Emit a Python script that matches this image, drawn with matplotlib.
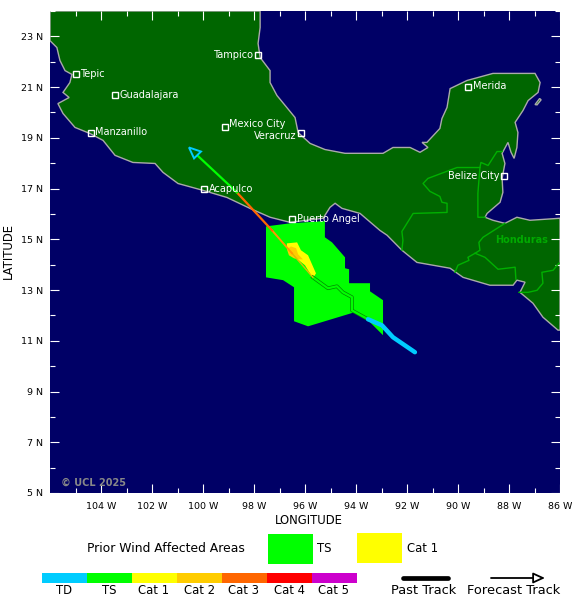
import matplotlib
matplotlib.use("Agg")
import matplotlib.pyplot as plt
from matplotlib.patches import Polygon, Rectangle

W, H = 580, 606
LON0, LON1, LAT0, LAT1 = -106, -86, 5, 24

land_lon = [-106,-106.0,-105.73,-105.61,-105.41,-105.14,-105.22,-105.49,-105.25,-105.69,-105.49,-105.02,-104.43,-103.92,-103.45,-102.75,-101.88,-101.57,-100.98,-100.0,-99.06,-98.16,-97.37,-96.59,-95.29,-95.02,-94.82,-94.55,-93.84,-93.06,-92.78,-92.20,-91.61,-90.31,-89.80,-88.75,-87.84,-87.69,-87.37,-87.57,-87.06,-86.67,-86.08,-86,-86,-87.18,-87.69,-88.16,-88.63,-88.94,-88.86,-88.35,-88.24,-88.27,-88.16,-88.27,-88.04,-87.92,-87.80,-87.69,-87.65,-87.76,-87.45,-87.25,-86.86,-86.78,-86.98,-87.69,-88.63,-89.65,-90.31,-90.43,-90.63,-90.71,-91.22,-91.41,-91.18,-91.49,-91.88,-92.55,-92.94,-93.45,-94.43,-95.22,-95.80,-96.27,-96.39,-97.10,-97.37,-97.37,-97.76,-97.84,-97.76,-97.76]
land_lat = [24,22.83,22.56,22.05,21.65,21.50,21.18,20.79,20.59,20.35,19.96,19.41,19.17,18.90,18.31,18.03,17.99,17.64,17.20,16.93,16.65,16.22,15.87,15.67,15.83,16.26,16.42,16.22,16.02,15.35,15.16,14.57,14.09,13.86,13.50,13.19,13.19,13.39,13.31,12.91,12.48,11.93,11.42,11.42,15.83,15.75,15.87,15.63,15.75,15.87,16.02,16.46,16.85,17.40,17.99,18.39,18.82,18.43,18.19,18.62,19.21,19.61,20.08,20.47,20.79,21.18,21.54,21.54,21.54,21.26,20.94,20.20,19.76,19.37,18.82,18.82,18.62,18.43,18.62,18.62,18.39,18.39,18.39,18.54,18.78,19.21,19.80,20.67,21.18,21.65,22.17,22.72,23.35,24]

island_lon = [-86.98,-86.80,-86.74,-86.90]
island_lat = [20.31,20.55,20.50,20.30]

borders = [
    ([-92.20,-92.16,-92.20,-91.76,-90.43,-90.43,-90.63,-90.71,-91.10,-91.37,-91.18,-90.04,-89.14],
     [14.57,14.96,15.31,16.02,16.06,16.42,16.46,16.69,16.89,17.20,17.40,17.83,17.83]),
    ([-88.94,-89.22,-89.22,-89.14,-89.10,-88.82,-88.47,-88.27],
     [15.87,15.87,16.81,17.83,18.03,17.91,18.46,18.46]),
    ([-88.16,-89.02,-89.18,-89.14,-89.33,-89.61,-89.57,-90.0,-90.12],
     [15.63,15.08,14.88,14.57,14.45,14.29,14.17,13.98,13.70]),
    ([-89.33,-88.94,-88.43,-87.76,-87.73],
     [14.45,14.29,13.82,13.90,13.43]),
    ([-87.61,-87.25,-86.90,-86.67,-86.71,-86.27,-86.04],
     [12.91,12.91,12.99,13.27,13.70,13.78,14.06]),
]

ts_lon = [-97.53,-96.59,-95.22,-95.22,-94.94,-94.43,-94.43,-94.27,-94.27,-93.45,-93.45,-92.94,-92.94,-93.53,-94.04,-95.88,-96.43,-96.43,-96.86,-97.53]
ts_lat = [15.51,15.63,15.72,15.08,14.88,14.29,13.86,13.82,13.27,13.27,12.95,12.60,11.22,11.81,12.13,11.57,11.77,13.11,13.39,13.50]

cat1_lon = [-96.71,-96.31,-96.16,-95.88,-95.57,-95.69,-96.00,-96.39,-96.71]
cat1_lat = [14.84,14.88,14.57,14.37,13.66,13.46,13.98,14.29,14.65]

cat2_lon = [-96.71,-96.55,-96.35,-96.27,-96.08,-96.24,-96.43,-96.63]
cat2_lat = [14.61,14.72,14.65,14.41,14.21,14.21,14.25,14.37]

td_lon = [-91.69,-92.55,-92.98,-93.53]
td_lat = [10.55,11.14,11.61,11.85]
ts_track_lon = [-93.53,-94.16,-94.16,-94.51,-94.75,-95.10,-95.69]
ts_track_lat = [11.85,12.20,12.72,12.91,13.15,13.07,13.50]
cat1_track_lon = [-95.69,-96.51]
cat1_track_lat = [13.50,14.45]
cat_track_lon = [-96.51,-97.29]
cat_track_lat = [14.45,15.35]
cat3_fc_lon = [-97.29,-98.67]
cat3_fc_lat = [15.35,16.85]
ts_fc_lon = [-98.67,-100.31]
ts_fc_lat = [16.85,18.39]
head_lon = [-100.55,-100.08,-100.35]
head_lat = [18.62,18.46,18.19]

cities = ["Tampico","Tepic","Guadalajara","Manzanillo","Mexico City","Veracruz","Acapulco","Puerto Angel","Merida","Belize City"]
city_lon = [-97.85,-105.0,-103.45,-104.4,-99.15,-96.15,-99.95,-96.5,-89.6,-88.2]
city_lat = [22.25,21.5,20.67,19.2,19.43,19.2,17.0,15.8,21.0,17.5]
city_side = ["l","r","r","r","r","l","r","r","r","l"]
city_dy = [0.03,0.03,0.0,0.03,0.12,-0.12,0.0,0.0,0.03,0.0]

bar_names = ["TD","TS","Cat 1","Cat 2","Cat 3","Cat 4","Cat 5"]
bar_colors = ["#00ccff","#00ff00","#ffff00","#ffcc00","#ff6600","#ff0000","#cc00cc"]

NAVY, LAND, COAST, BORDER = "#000066", "#006600", "#aaaaaa", "#00b000"

fig = plt.figure(figsize=(W/100, H/100), dpi=100, facecolor="white")
ax = fig.add_axes([50/W, 1-493/H, 510/W, 482/H], facecolor=NAVY)
ax.set_xlim(LON0, LON1)
ax.set_ylim(LAT0, LAT1)

ax.add_patch(Polygon(list(zip(land_lon, land_lat)), fc=LAND, ec=COAST, lw=1, zorder=1))
ax.add_patch(Polygon(list(zip(island_lon, island_lat)), fc=LAND, ec=COAST, lw=1, zorder=1))
for bx, by in borders:
    ax.plot(bx, by, color=BORDER, lw=1, zorder=2)

ax.add_patch(Polygon(list(zip(ts_lon, ts_lat)), fc="#00ff00", ec="none", zorder=3))
ax.add_patch(Polygon(list(zip(cat1_lon, cat1_lat)), fc="#ffff00", ec="none", zorder=4))
ax.add_patch(Polygon(list(zip(cat2_lon, cat2_lat)), fc="#ffcc00", ec="none", zorder=5))

ax.plot(ts_track_lon, ts_track_lat, color="#008800", lw=2.6, zorder=5)
ax.plot(ts_track_lon, ts_track_lat, color="#00ff00", lw=1.6, zorder=6)
ax.plot(td_lon, td_lat, color="#00ccff", lw=3.2, solid_capstyle="round", solid_joinstyle="round", zorder=7)
ax.plot(cat1_track_lon, cat1_track_lat, color="#ddbb00", lw=1.0, zorder=6)
ax.plot(cat_track_lon, cat_track_lat, color="#ff9900", lw=1.4, zorder=7)
ax.plot(cat3_fc_lon, cat3_fc_lat, color="#ff6600", lw=1.6, zorder=7)
ax.plot(ts_fc_lon, ts_fc_lat, color="#00ff00", lw=1.6, zorder=7)
ax.add_patch(Polygon(list(zip(head_lon, head_lat)), fc=LAND, ec="#00ccff", lw=1.4, zorder=8))

for name, lo, la, side, dy in zip(cities, city_lon, city_lat, city_side, city_dy):
    ax.plot([lo], [la], marker="s", ms=5, mfc="none", mec="white", mew=1, zorder=9, ls="none")
    off = 0.18 if side == "r" else -0.18
    ax.text(lo + off, la + dy, name, color="white", fontsize=7.0, va="center",
            ha="left" if side == "r" else "right", zorder=9)

ax.text(-87.49, 14.97, "Honduras", color="#00aa00", fontsize=7, fontweight="bold", ha="center", va="center", zorder=2)
ax.text(-105.55, 5.42, "\u00a9 UCL 2025", color="#888888", fontsize=7, fontweight="bold", ha="left", va="center", zorder=9)

ax.set_xticks(range(-104, -85, 2))
ax.set_xticklabels([f"{abs(v)} W" for v in range(-104, -85, 2)], fontsize=6.8)
ax.set_xticks(range(-105, -85, 2), minor=True)
ax.set_yticks(range(5, 24, 2))
ax.set_yticklabels([f"{v} N" for v in range(5, 24, 2)], fontsize=6.8)
ax.set_yticks(range(6, 25, 2), minor=True)
ax.tick_params(which="major", direction="in", length=6.5, width=0.8, color="white",
               top=True, right=True, pad=5, labelcolor="black")
ax.tick_params(which="minor", direction="in", length=3.5, width=0.8, color="white", top=True, right=True)
ax.tick_params(axis="x", which="major", pad=6.5)
for s in ax.spines.values():
    s.set_visible(False)
for t in ax.get_xticklines() + ax.get_yticklines() + ax.xaxis.get_minorticklines() + ax.yaxis.get_minorticklines():
    t.set_zorder(10)

# page-level annotations, in pixel space
pg = fig.add_axes([0, 0, 1, 1], facecolor="none")
pg.set_xlim(0, W)
pg.set_ylim(H, 0)
pg.axis("off")
pg.text(309, 520, "LONGITUDE", fontsize=8.4, ha="center", va="center")
pg.text(8, 251, "LATITUDE", fontsize=8.4, ha="center", va="center", rotation=90)
pg.text(87, 548, "Prior Wind Affected Areas", fontsize=8.9, ha="left", va="center")
pg.add_patch(Rectangle((268, 534), 45, 30, fc="#00ff00", ec="none"))
pg.text(317, 548, "TS", fontsize=8.4, ha="left", va="center")
pg.add_patch(Rectangle((357, 533), 45, 30, fc="#ffff00", ec="none"))
pg.text(407, 548, "Cat 1", fontsize=8.4, ha="left", va="center")
for i, (n, c) in enumerate(zip(bar_names, bar_colors)):
    pg.add_patch(Rectangle((42 + 45*i, 573), 45, 10, fc=c, ec="none"))
    pg.text(64 + 45*i, 590.5, n, fontsize=8.4, ha="center", va="center")
pg.plot([403, 448], [578, 578], color="black", lw=3.4, solid_capstyle="round")
pg.text(424, 590.5, "Past Track", fontsize=9.4, ha="center", va="center")
pg.annotate("", xy=(545, 578), xytext=(491, 578),
            arrowprops=dict(arrowstyle="-|>,head_width=0.32,head_length=0.7", fc="white", ec="black", lw=1.3, shrinkA=0, shrinkB=0))
pg.text(514, 590.5, "Forecast Track", fontsize=9.4, ha="center", va="center")

fig.savefig("out.png", dpi=100)
